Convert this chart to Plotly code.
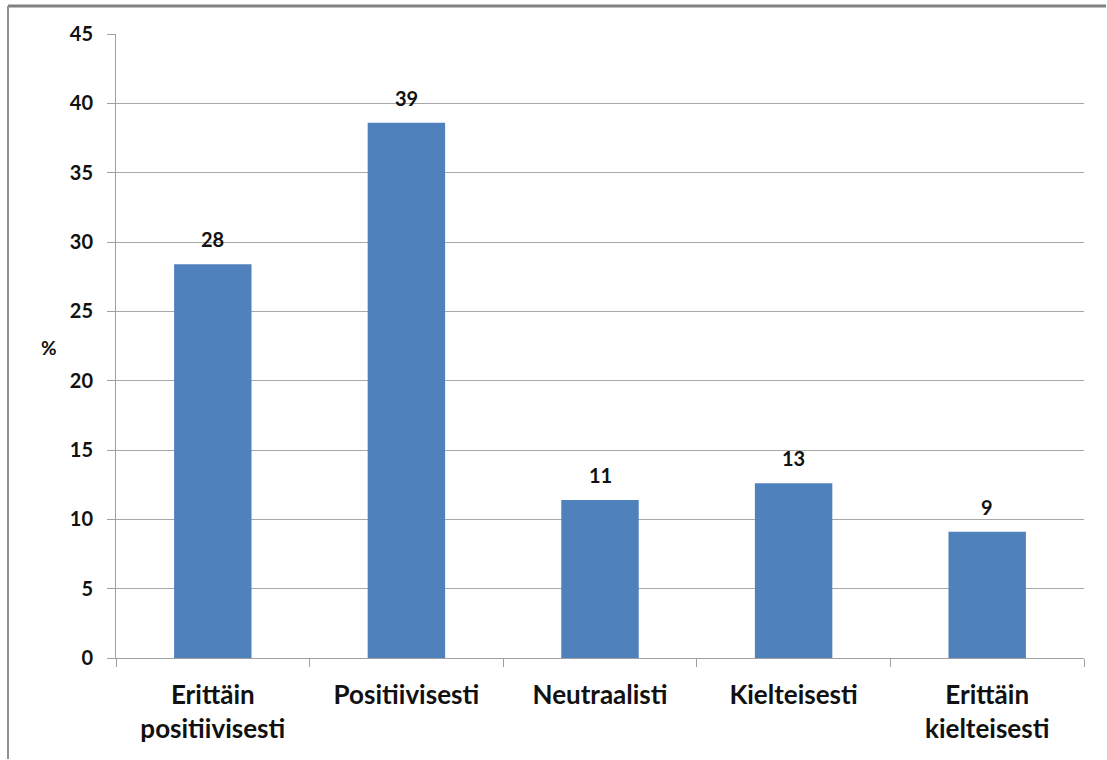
#!/usr/bin/env python
"""
Asenne-kysely: pylväskaavio
"""

import plotly.graph_objects as go

categories = ['Erittäin<br>positiivisesti', 'Positiivisesti', 'Neutraalisti',
              'Kielteisesti', 'Erittäin<br>kielteisesti']
values = [28.4, 38.6, 11.4, 12.6, 9.1]
y_ticks = [0, 5, 10, 15, 20, 25, 30, 35, 40, 45]

FONT = 'Lato'
TXT = '#111111'
W, H = 1107, 760
L, R, T, B = 116, 23, 34, 102

fig = go.Figure()
fig.add_trace(go.Bar(
    x=categories,
    y=values,
    marker=dict(color='#4F81BD', line=dict(width=0)),
    width=0.4,
))

# value labels above the bars
for cat, val in zip(categories, values):
    fig.add_annotation(x=cat, y=val, text='{:.0f}'.format(val),
                       showarrow=False, yanchor='bottom', yshift=11,
                       font=dict(family=FONT, size=20, color=TXT, weight='bold'))

# frame around the chart (top and left edges visible)
plot_w = W - L - R
plot_h = H - T - B
fig.add_shape(type='line', xref='paper', yref='paper',
              x0=(8 - L) / plot_w, x1=(W - 1 - L) / plot_w,
              y0=(H - B - 6) / plot_h, y1=(H - B - 6) / plot_h,
              line=dict(color='#808080', width=3))
fig.add_shape(type='line', xref='paper', yref='paper',
              x0=(8 - L) / plot_w, x1=(8 - L) / plot_w,
              y0=(H - B - 6) / plot_h, y1=-(B - 1) / plot_h,
              line=dict(color='#909090', width=2))

fig.add_annotation(text='%', xref='paper', yref='paper',
                   x=(49 - L) / plot_w, y=(H - B - 347) / plot_h,
                   xanchor='center', yanchor='middle', showarrow=False,
                   font=dict(family=FONT, size=19, color=TXT, weight='bold'))

fig.update_layout(
    width=W, height=H,
    margin=dict(l=L, r=R, t=T, b=B),
    paper_bgcolor='white', plot_bgcolor='white',
    showlegend=False,
    font=dict(family=FONT, color=TXT),
)
fig.update_xaxes(
    showline=True, linecolor='#a0a0a0', linewidth=1,
    ticks='outside', tickson='boundaries', ticklen=8, tickcolor='#a0a0a0',
    tickfont=dict(family=FONT, size=26, color=TXT, weight='bold'),
    ticklabelstandoff=14,
    showgrid=False,
)
fig.update_yaxes(
    range=[0, 45], tickvals=y_ticks,
    showline=True, linecolor='#a0a0a0', linewidth=1,
    ticks='outside', ticklen=8, tickcolor='#a0a0a0',
    gridcolor='#a8a8a8', gridwidth=1,
    tickfont=dict(family=FONT, size=20, color=TXT, weight='bold'),
    ticklabelstandoff=10,
    zeroline=False,
)

fig.write_html('out.html', config={'displayModeBar': False},
               post_script="document.body.style.margin='0';")
